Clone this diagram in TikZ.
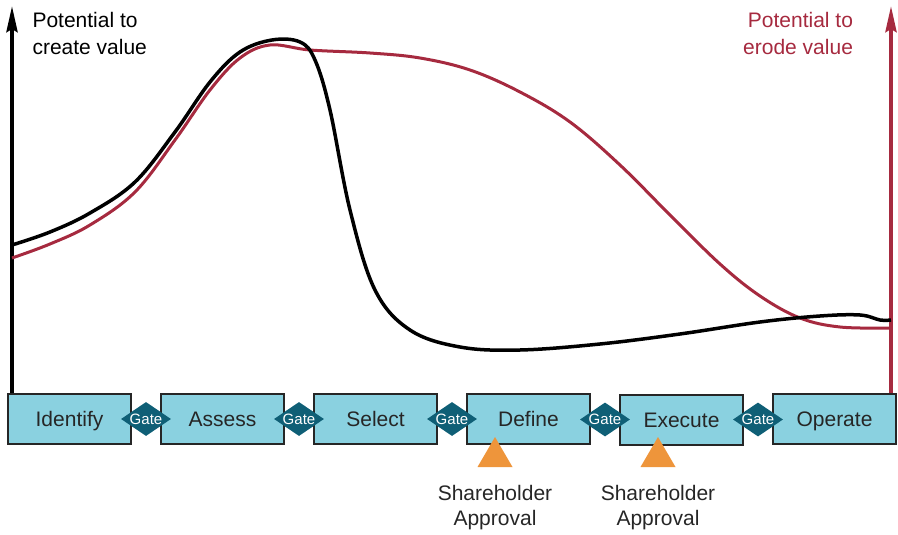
\documentclass[tikz,border=0pt]{standalone}
\usepackage{fontspec}
\setmainfont{Liberation Sans}
\usetikzlibrary{arrows.meta, positioning, calc, shapes.geometric}

\definecolor{phasefill}{HTML}{8AD1E0}
\definecolor{gatefill}{HTML}{0F5F76}
\definecolor{erodered}{HTML}{A62A3F}
\definecolor{approvalorange}{HTML}{EE953B}
\definecolor{inkgray}{HTML}{262626}

\tikzset{
  phase/.style={draw=inkgray, line width=2pt, fill=phasefill, minimum width=123pt,
    minimum height=50pt, inner sep=0pt, text height=18pt, text depth=3pt,
    font=\fontsize{21}{24}\selectfont, text=inkgray},
  gate/.style={diamond, fill=gatefill, minimum width=50pt, minimum height=34pt,
    inner sep=0pt, aspect=1.5, text=white, font=\fontsize{15}{17}\selectfont},
  approval/.style={fill=approvalorange},
  caption/.style={align=center, font=\fontsize{21}{25}\selectfont, text=inkgray},
  axis/.style={line width=4pt, -{Stealth[length=26pt, width=11pt, inset=3pt]}}
}

\begin{document}
\begin{tikzpicture}[x=1pt, y=-1pt]
  \useasboundingbox (0,0) rectangle (898,535);

  % phases
  \node[phase] (identify) at (69.5,419) {Identify};
  \node[phase, right=28pt of identify] (assess) {Assess};
  \node[phase, right=28pt of assess] (select) {Select};
  \node[phase, right=28pt of select] (define) {Define};
  \node[phase, right=28pt of define, yshift=-1pt] (execute) {Execute};
  \node[phase, right=28pt of execute, yshift=1pt] (operate) {Operate};

  % gates
  \node[gate] (g1) at ($(identify.east)!0.5!(assess.west)$) {Gate};
  \node[gate] (g2) at ($(assess.east)!0.5!(select.west)$) {Gate};
  \node[gate] (g3) at ($(select.east)!0.5!(define.west)$) {Gate};
  \node[gate] (g4) at ($(define.east)!0.5!(execute.west)$) {Gate};
  \node[gate] (g5) at ($(execute.east)!0.5!(operate.west)$) {Gate};

  % shareholder approvals
  \fill[approval] (495,437) -- (512.5,467) -- (477.5,467) -- cycle;
  \fill[approval] (658,437) -- (675.5,467) -- (640.5,467) -- cycle;
  \node[caption, anchor=north] (sa1) at (495,482) {Shareholder\\Approval};
  \node[caption, anchor=north] (sa2) at (658,482) {Shareholder\\Approval};

  % axes
  \coordinate (createtop) at (12,6);
  \coordinate (erodetop) at (891,6);
  \draw[axis, black] (identify.north west -| createtop) -- (createtop);
  \draw[axis, erodered] (operate.north east -| erodetop) -- (erodetop);
  \node[anchor=north west, align=left, font=\fontsize{21}{27}\selectfont] (createlbl)
    at (29,8.5) {Potential to\\create value};
  \node[anchor=north east, align=right, font=\fontsize{21}{27}\selectfont, text=erodered] (erodelbl)
    at (856.5,8.5) {Potential to\\erode value};

  % curves
  \draw[erodered, line width=3pt, line join=round] plot[smooth, tension=0.6] coordinates {
    (12,258) (50,244) (90,225) (135,192) (175,140) (210,90) (240,58) (270,45)
    (310,50) (370,53) (420,58) (470,70) (520,92) (570,122) (620,165) (670,215)
    (720,264) (760,296) (800,318) (840,327) (891,328)};
  \draw[black, line width=3.5pt, line join=round] plot[smooth, tension=0.6] coordinates {
    (12,245) (50,232) (90,213) (135,182) (175,132) (210,82) (240,52) (272,40)
    (300,42) (315,60) (330,110) (350,210) (375,290) (410,330) (460,347) (520,350)
    (600,344) (680,334) (760,322) (820,316) (860,315) (880,320) (891,320)};
\end{tikzpicture}
\end{document}
